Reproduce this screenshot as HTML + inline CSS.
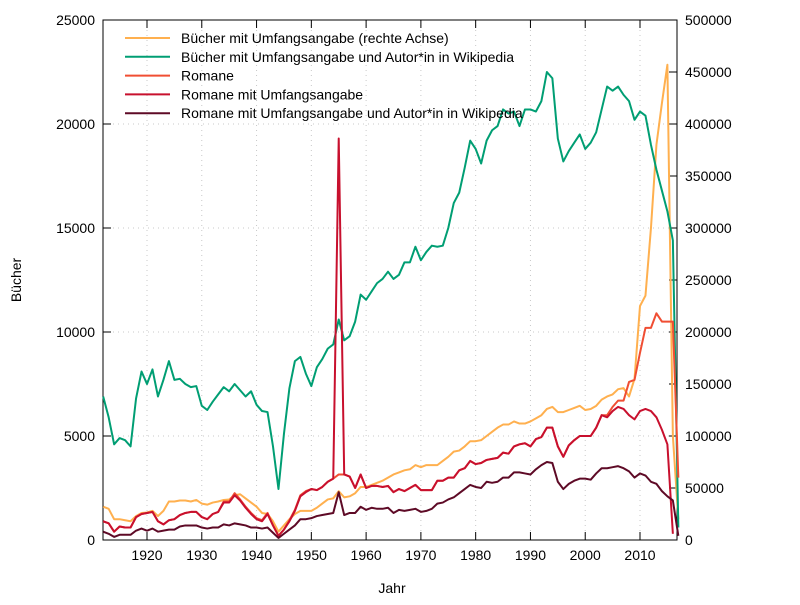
<!DOCTYPE html>
<html><head><meta charset="utf-8"><style>
body{margin:0;background:#fff}
svg text{font-family:"Liberation Sans",sans-serif;font-size:14px;fill:#000}
</style></head><body>
<svg id="c" width="800" height="600"></svg>
<script>
const years=[];for(let y=1912;y<=2017;y++)years.push(y);
const xTicks=[1920,1930,1940,1950,1960,1970,1980,1990,2000,2010];
const yTicksLeft=[0,5000,10000,15000,20000,25000];
const yTicksRight=[0,50000,100000,150000,200000,250000,300000,350000,400000,450000,500000];
const buecherRight=[32000,30000,20000,20000,19000,18000,23000,26000,26500,28000,23000,28000,37000,37000,38000,38000,37000,38500,35000,34000,36000,37000,38500,39000,43000,44000,40000,36000,32000,26000,25000,18000,8000,14000,20000,25000,28000,28000,28000,31000,35000,39000,40000,47000,41000,42000,45000,51000,51000,53000,55000,57000,60000,63000,65000,67000,68000,72000,70000,72000,72000,72000,76000,80000,85000,86000,90000,95000,95000,96000,100000,104000,108000,111000,111000,114000,112000,112000,114000,117000,120000,126000,128000,123000,123000,125000,127000,129000,125000,126000,129000,135000,138000,140000,145000,146000,138000,155000,225000,235000,300000,380000,420000,457000,100000,20000];
const wikipedia=[6900,5900,4600,4900,4800,4500,6800,8100,7500,8200,6900,7700,8600,7700,7750,7500,7350,7400,6450,6250,6650,7000,7350,7150,7500,7200,6900,7150,6500,6200,6150,4500,2450,5100,7300,8600,8800,8000,7400,8300,8700,9200,9400,10600,9600,9800,10500,11800,11550,11950,12350,12550,12900,12550,12750,13350,13350,14100,13450,13850,14150,14100,14150,15000,16200,16700,17900,19200,18800,18100,19200,19700,19900,20700,20500,20600,19900,20700,20700,20600,21100,22500,22200,19300,18200,18700,19100,19500,18800,19100,19600,20700,21800,21600,21800,21400,21100,20200,20600,20400,19000,17800,16800,15800,14400,600];
const romane=[900,800,400,650,600,600,1100,1250,1300,1350,900,750,950,1000,1200,1300,1350,1350,1100,1000,1250,1350,1850,1850,2250,1950,1600,1300,1050,950,1300,700,200,500,950,1450,2150,2350,2450,2400,2550,2800,2950,3150,3150,3050,2500,3150,2500,2600,2600,2550,2600,2300,2450,2350,2500,2650,2400,2400,2400,2850,2850,3000,3000,3350,3450,3800,3650,3700,3850,3900,3950,4200,4150,4500,4600,4650,4500,4850,4950,5400,5400,4500,4000,4550,4800,5000,5000,5000,5400,6000,6000,6400,6700,6700,7600,7700,9000,10200,10200,10900,10500,10500,10500,3000];
const romaneUmfang=[900,800,400,650,600,600,1100,1250,1300,1350,900,750,950,1000,1200,1300,1350,1350,1100,1000,1250,1350,1800,1800,2150,1900,1550,1250,1000,900,1250,700,200,500,900,1400,2100,2300,2450,2400,2550,2800,2950,19300,3150,3050,2500,3150,2500,2600,2600,2550,2600,2300,2450,2350,2500,2650,2400,2400,2400,2850,2850,3000,3000,3350,3450,3800,3650,3700,3850,3900,3950,4200,4150,4500,4600,4650,4500,4850,4950,5400,5400,4500,4000,4550,4800,5000,5000,5000,5400,6000,5900,6200,6400,6300,6000,5800,6200,6300,6200,5900,5300,4600,300];
const romaneWiki=[400,300,150,250,250,250,450,550,450,550,400,450,500,500,650,700,700,700,600,550,600,600,750,700,800,750,700,600,600,550,600,350,100,300,500,700,1000,1000,1050,1150,1200,1250,1300,2300,1200,1300,1300,1600,1450,1550,1500,1500,1550,1300,1450,1400,1450,1500,1350,1400,1500,1750,1800,1950,2050,2250,2450,2650,2550,2500,2800,2750,2800,3000,3000,3250,3250,3200,3150,3400,3600,3750,3700,2800,2450,2700,2850,2950,2950,2900,3200,3450,3450,3500,3550,3450,3300,3000,3200,3100,2800,2700,2350,2100,1900,200];

const L=103,R=677,T=20,B=540;
const X=y=>147+(y-1920)*(493/90);
const YL=v=>B-v*(B-T)/25000;
const YR=v=>B-v*(B-T)/500000;
const svg=document.getElementById('c');const NS='http://www.w3.org/2000/svg';
function mk(t,a,p){const e=document.createElementNS(NS,t);for(const k in a)e.setAttribute(k,a[k]);(p||svg).appendChild(e);return e;}
xTicks.forEach(t=>{const g=mk('line',{x1:X(t),x2:X(t),y1:T,y2:B,stroke:'#c8c8c8','stroke-dasharray':'1,4'});

});
yTicksLeft.slice(1,-1).forEach(t=>{const g=mk('line',{x1:L,x2:R,y1:YL(t),y2:YL(t),stroke:'#c8c8c8','stroke-dasharray':'1,4'});

});
const box=mk('rect',{x:L,y:T,width:R-L,height:B-T,fill:'none',stroke:'#000','stroke-width':1});


xTicks.forEach(t=>{mk('line',{x1:X(t),x2:X(t),y1:B,y2:B-8,stroke:'#000'});mk('line',{x1:X(t),x2:X(t),y1:T,y2:T+8,stroke:'#000'});
const tx=mk('text',{x:X(t),y:B+20,'text-anchor':'middle'});tx.textContent=t;

});
yTicksLeft.forEach(t=>{mk('line',{x1:L,x2:L+8,y1:YL(t),y2:YL(t),stroke:'#000'});
const tx=mk('text',{x:L-8,y:YL(t)+5,'text-anchor':'end'});tx.textContent=t;

});
yTicksRight.forEach(t=>{mk('line',{x1:R,x2:R-8,y1:YR(t),y2:YR(t),stroke:'#000'});
const tx=mk('text',{x:R+8,y:YR(t)+5,'text-anchor':'start'});tx.textContent=t;

});
const yt=mk('text',{x:21,y:280,'text-anchor':'middle',transform:'rotate(-90 21 280)'});yt.textContent='Bücher';


const xt=mk('text',{x:392,y:593,'text-anchor':'middle'});xt.textContent='Jahr';


const series=[
 {d:buecherRight,f:YR,c:'#ffb04f',n:'Bücher mit Umfangsangabe (rechte Achse)',id:'series-buecher'},
 {d:wikipedia,f:YL,c:'#009e73',n:'Bücher mit Umfangsangabe und Autor*in in Wikipedia',id:'series-wikipedia'},
 {d:romane,f:YL,c:'#f04e33',n:'Romane',id:'series-romane'},
 {d:romaneUmfang,f:YL,c:'#c8102e',n:'Romane mit Umfangsangabe',id:'series-romane-umfang'},
 {d:romaneWiki,f:YL,c:'#5e0a26',n:'Romane mit Umfangsangabe und Autor*in in Wikipedia',id:'series-romane-wiki'}];
series.forEach((s,i)=>{
 const p=mk('polyline',{points:s.d.map((v,j)=>X(years[j])+','+s.f(v)).join(' '),fill:'none',stroke:s.c,'stroke-width':2,'stroke-linejoin':'round'});
 
 
 const ly=38+i*18.8;
 const ll=mk('line',{x1:125,x2:170,y1:ly,y2:ly,stroke:s.c,'stroke-width':2});
 
 
 const lt=mk('text',{x:181,y:ly+5});lt.textContent=s.n;
 
 
});
</script>
</body></html>
